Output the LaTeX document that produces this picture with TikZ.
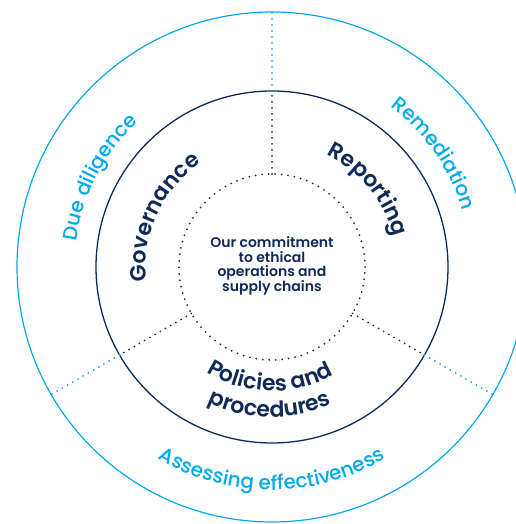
\documentclass[tikz,border=0pt]{standalone}
\usepackage{fontspec}
\setmainfont{Poppins}
\newfontfamily\semib{Poppins SemiBold}
\newfontfamily\medf{Poppins Medium}
\usetikzlibrary{decorations.text}
\definecolor{navy}{RGB}{16,42,88}
\definecolor{skyc}{RGB}{0,170,235}
\tikzset{
  dotnavy/.style={navy, line width=2, dash pattern=on 0pt off 6pt, line cap=round},
  dotsky/.style={skyc, line width=2, dash pattern=on 0pt off 6pt, line cap=round},
  arcnavy/.style={postaction={decorate}, decoration={text along path, text align=center, text color=navy,
      text={|\semib\fontsize{22}{22}\selectfont|#1}}},
  arcsky/.style={postaction={decorate}, decoration={text along path, text align=center, text color=skyc,
      text={|\medf\fontsize{20}{20}\selectfont|#1}}}
}
\begin{document}
\begin{tikzpicture}[x=1pt,y=1pt]
\useasboundingbox (-272,-257) rectangle (243,267);
% circles
\draw[skyc, line width=1.2] (0,0) circle[radius=255];
\draw[navy, line width=1.3] (0,0) circle[radius=176];
\draw[dotnavy, dash pattern=on 0pt off 6.5pt] (0,0) circle[radius=93];
% spoke points
\foreach \a/\n in {90/t,210/l,330/r}{
  \coordinate (\n a) at (\a:93);
  \coordinate (\n b) at (\a:176);
  \coordinate (\n c) at (\a:255);
}
\foreach \n in {t,l,r}{
  \draw[dotnavy] (\n a) -- (\n b);
  \draw[dotsky] (\n b) -- (\n c);
}
% centre text
\node[navy, font=\semib\fontsize{14}{14.7}\selectfont, align=center] (core) at (0,1)
  {Our commitment\\to ethical\\operations and\\supply chains};
% inner ring labels
\path[arcnavy={Governance}] (200.5:126) arc[start angle=200.5, end angle=110.5, radius=126];
\path[arcnavy={Reporting}] (84:125) arc[start angle=84, end angle=-6, radius=125];
\path[arcnavy={Policies and}] (219:124) arc[start angle=219, end angle=319, radius=124];
\path[arcnavy={procedures}] (219:150) arc[start angle=219, end angle=319, radius=150];
% outer ring labels
\path[arcsky={Due diligence}] (197.5:197) arc[start angle=197.5, end angle=107.5, radius=197];
\path[arcsky={Remediation}] (80:199) arc[start angle=80, end angle=-10, radius=199];
\path[arcsky={Assessing effectiveness}] (215:223) arc[start angle=215, end angle=325, radius=223];
\end{tikzpicture}
\end{document}
